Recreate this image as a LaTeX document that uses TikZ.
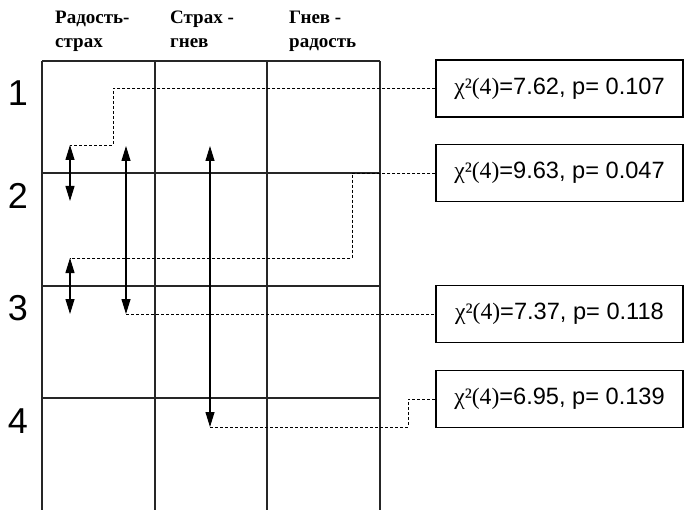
\documentclass[tikz,border=0pt]{standalone}
\usepackage{fontspec}
\setmainfont{Liberation Serif}
\newfontfamily\arialf{Liberation Sans}
\newfontfamily\timesf{Liberation Serif}
\usetikzlibrary{arrows.meta}
\begin{document}
\begin{tikzpicture}[x=1pt,y=-1pt,
  gridline/.style={line width=1.1pt,draw=black!85},
  conn/.style={line width=0.8pt,dash pattern=on 3pt off 2pt},
  dblarrow/.style={line width=1.1pt,{Triangle[width=9pt,length=15pt]}-{Triangle[width=9pt,length=15pt]}},
  statbox/.style={draw,line width=1.1pt,minimum width=247pt,minimum height=57pt,inner sep=0pt,
    font=\arialf\fontsize{23.6}{27}\selectfont},
  rowlab/.style={font=\arialf\fontsize{36}{40}\selectfont,inner sep=0pt},
  head/.style={anchor=base west,inner sep=0pt,font=\timesf\bfseries\fontsize{19}{24}\selectfont}]
\useasboundingbox (0,0) rectangle (684,510);
% grid
\foreach \x in {42,155,267,380} \draw[gridline] (\x,61) -- (\x,510);
\foreach \y in {61,173,286,398} \draw[gridline] (42,\y) -- (380,\y);
% headers
\node[head] (h1a) at (55,24) {Радость-};
\node[head] (h1b) at (55,48) {страх};
\node[head] (h2a) at (170,24) {Страх -};
\node[head] (h2b) at (170,48) {гнев};
\node[head] (h3a) at (289,24) {Гнев -};
\node[head] (h3b) at (289,48) {радость};
% row labels
\node[rowlab] (r1) at (18,93) {1};
\node[rowlab] (r2) at (18,196) {2};
\node[rowlab] (r3) at (18,308) {3};
\node[rowlab] (r4) at (18,421) {4};
% stat boxes
\newcommand{\chisq}[1]{{\timesf χ²(4)}#1}
\node[statbox] (b1) at (559.5,88.5) {\chisq{=7.62, p= 0.107}};
\node[statbox] (b2) at (559.5,173) {\chisq{=9.63, p= 0.047}};
\node[statbox] (b3) at (559.5,314) {\chisq{=7.37, p= 0.118}};
\node[statbox] (b4) at (559.5,399) {\chisq{=6.95, p= 0.139}};
% arrow end points
\coordinate (a1t) at (70,145);
\coordinate (a1b) at (70,201);
\coordinate (a2t) at (70,258);
\coordinate (a2b) at (70,314);
\coordinate (a3t) at (126,146);
\coordinate (a3b) at (126,314);
\coordinate (a4t) at (210,146);
\coordinate (a4b) at (210,427);
% arrows
\draw[dblarrow] (a1t) -- (a1b);
\draw[dblarrow] (a2t) -- (a2b);
\draw[dblarrow] (a3t) -- (a3b);
\draw[dblarrow] (a4t) -- (a4b);
% dashed connectors
\draw[conn] (b1.west) -- (113,88.5) |- (a1t);
\draw[conn] (b2.west) -- (352,173) |- (a2t);
\draw[conn] (a3b) -- (b3.west);
\draw[conn] (a4b) -- (408,427) |- (b4.west);
\end{tikzpicture}
\end{document}
